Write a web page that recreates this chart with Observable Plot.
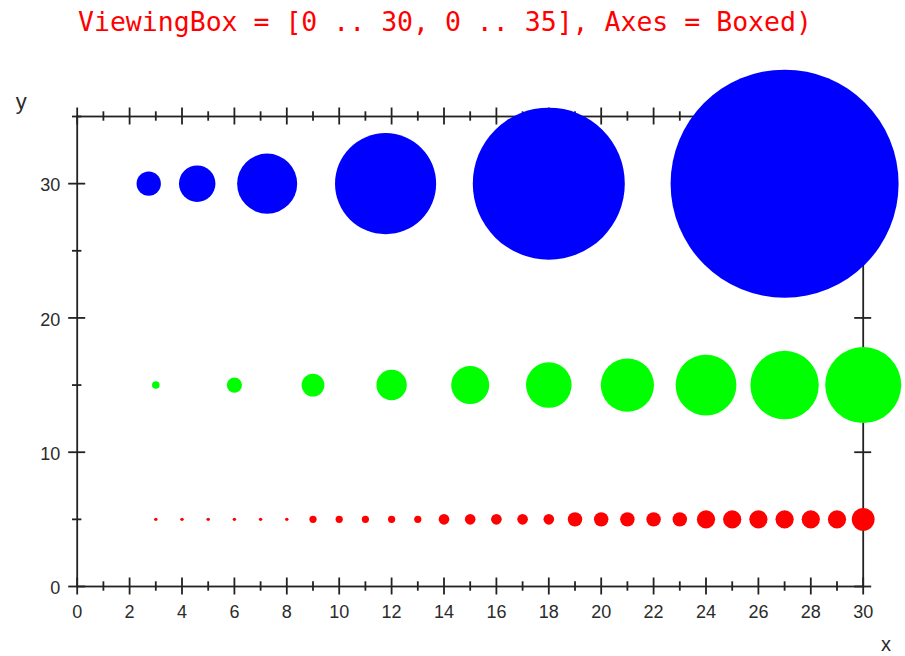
<!DOCTYPE html>
<html>
<head>
<meta charset="utf-8">
<script src="https://cdn.jsdelivr.net/npm/d3@7"></script>
<script src="https://cdn.jsdelivr.net/npm/@observablehq/plot@0.6"></script>
<style>
  html, body { margin: 0; padding: 0; background: #fff; }
  #title { position: relative; width: 905px; height: 45px; }
  #title span { position: absolute; left: 78px; top: 8.6px; font-family: "DejaVu Sans Mono", monospace; font-size: 26.5px; line-height: 1; color: #ff0000; white-space: pre; }
  #chart svg { display: block; }
</style>
</head>
<body>
<div id="title"><span>ViewingBox = [0 .. 30, 0 .. 35], Axes = Boxed)</span></div>
<div id="chart"></div>
<script>
// ---- data ----
const xDomain = [0, 30];
const yDomain = [0, 35];

// blue row (y = 30): x positions and point sizes (mm)
const blueX = [2.73, 4.58, 7.25, 11.77, 18, 27];
const blueY = [30, 30, 30, 30, 30, 30];
const blueSize = [3.2, 4.8, 7.9, 13.3, 20, 30];

// green row (y = 15)
const greenX = [3, 6, 9, 12, 15, 18, 21, 24, 27, 30];
const greenY = [15, 15, 15, 15, 15, 15, 15, 15, 15, 15];
const greenSize = [1, 2, 3, 4, 5, 6, 7, 8, 9, 10];

// red row (y = 5)
const redX = [3, 4, 5, 6, 7, 8, 9, 10, 11, 12, 13, 14, 15, 16, 17, 18, 19, 20, 21, 22, 23, 24, 25, 26, 27, 28, 29, 30];
const redY = [5, 5, 5, 5, 5, 5, 5, 5, 5, 5, 5, 5, 5, 5, 5, 5, 5, 5, 5, 5, 5, 5, 5, 5, 5, 5, 5, 5];
const redSize = [0.45, 0.45, 0.45, 0.45, 0.45, 0.45, 0.95, 0.95, 0.95, 0.95, 0.95, 1.4, 1.4, 1.4, 1.4, 1.4, 1.9, 1.9, 1.9, 1.9, 1.9, 2.4, 2.4, 2.4, 2.4, 2.4, 2.4, 3.0];

// ticks
const xMajorTicks = [0, 2, 4, 6, 8, 10, 12, 14, 16, 18, 20, 22, 24, 26, 28, 30];
const xMinorTicks = [1, 3, 5, 7, 9, 11, 13, 15, 17, 19, 21, 23, 25, 27, 29];
const yMajorTicks = [0, 10, 20, 30];
const yMinorTicks = [5, 15, 25, 35];

const makeRows = (xs, ys, ss, series) => xs.map((x, i) => ({x, y: ys[i], size: ss[i], series}));
const points = [
  ...makeRows(blueX, blueY, blueSize, "blue"),
  ...makeRows(greenX, greenY, greenSize, "green"),
  ...makeRows(redX, redY, redSize, "red")
];
const colorOf = {blue: "#0000ff", green: "#00ff00", red: "#ff0000"};

const axisColor = "#222";
const labelColor = "#2b2b2b";
const majorLen = -8.5, minorLen = -4.7;

const hTicks = (ticks, yv, len) => Plot.ruleX(ticks, {x: d => d, y1: yv, y2: yv, insetTop: len, insetBottom: len, stroke: axisColor, strokeWidth: 1.8});
const vTicks = (ticks, xv, len) => Plot.ruleY(ticks, {y: d => d, x1: xv, x2: xv, insetLeft: len, insetRight: len, stroke: axisColor, strokeWidth: 1.8});

const chart = Plot.plot({
  width: 905,
  height: 611,
  marginLeft: 76.7,
  marginRight: 42.3,
  marginTop: 71,
  marginBottom: 70,
  style: {fontFamily: "'Liberation Sans', Arial, sans-serif", background: "#fff", overflow: "visible"},
  x: {domain: xDomain, axis: null},
  y: {domain: yDomain, axis: null},
  r: {type: "linear", domain: [0, 1], range: [0, 3.8]},
  marks: [
    Plot.frame({stroke: axisColor, strokeWidth: 1.8}),
    hTicks(xMajorTicks, yDomain[0], majorLen),
    hTicks(xMinorTicks, yDomain[0], minorLen),
    hTicks(xMajorTicks, yDomain[1], majorLen),
    hTicks(xMinorTicks, yDomain[1], minorLen),
    vTicks(yMajorTicks, xDomain[0], majorLen),
    vTicks(yMinorTicks, xDomain[0], minorLen),
    vTicks(yMajorTicks, xDomain[1], majorLen),
    vTicks(yMinorTicks, xDomain[1], minorLen),
    Plot.text(xMajorTicks, {x: d => d, y: yDomain[0], text: d => String(d), dy: 26, fontSize: 18, fill: labelColor}),
    Plot.text(yMajorTicks, {x: xDomain[0], y: d => d, text: d => String(d), dx: -17, dy: 2, textAnchor: "end", fontSize: 18, fill: labelColor}),
    Plot.text(["y"], {x: xDomain[0], y: yDomain[1], text: d => d, dx: -56, dy: -14.5, fontSize: 22, fill: labelColor}),
    Plot.text(["x"], {x: xDomain[1], y: yDomain[0], text: d => d, dx: 22.7, dy: 58, fontSize: 20, fill: labelColor}),
    Plot.dot(points, {x: "x", y: "y", r: "size", fill: d => colorOf[d.series], stroke: "none"})
  ]
});
document.getElementById("chart").appendChild(chart);
</script>
</body>
</html>
